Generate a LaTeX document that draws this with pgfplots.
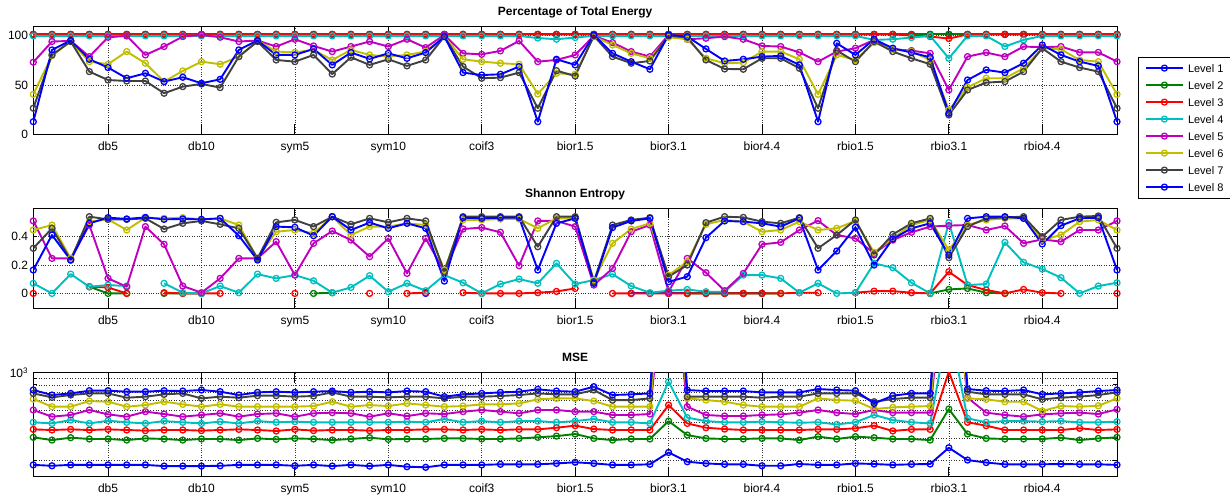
\documentclass[border=0pt]{standalone}
\usepackage{fontspec}
\setmainfont{Liberation Sans}
\usepackage{pgfplots}
\usepackage{pgfplotstable}
\pgfplotsset{compat=1.18}

\definecolor{c1}{rgb}{0,0,1}
\definecolor{c2}{rgb}{0,0.5,0}
\definecolor{c3}{rgb}{1,0,0}
\definecolor{c4}{rgb}{0,0.75,0.75}
\definecolor{c5}{rgb}{0.75,0,0.75}
\definecolor{c6}{rgb}{0.75,0.75,0}
\definecolor{c7}{rgb}{0.25,0.25,0.25}
\definecolor{c8}{rgb}{0,0,1}

% percentage of total energy per decomposition level
\pgfplotstableread{
i  L1    L2    L3    L4    L5    L6    L7    L8
1  101.2 101.2 101.2 99.7  73.0  40.5  26.4  12.8
2  101.2 101.2 101.2 99.7  94.0  79.7  80.4  85.5
3  101.2 101.2 101.2 99.7  94.6  94.0  94.0  95.0
4  101.2 101.2 101.2 99.7  78.7  73.6  63.5  76.0
5  101.2 101.2 101.2 99.7  98.3  71.0  55.0  67.6
6  101.2 101.2 101.2 99.7  99.7  83.8  54.0  56.8
7  101.2 101.2 101.2 99.7  80.4  72.0  54.0  61.8
8  101.2 101.2 101.2 99.7  88.9  53.4  41.6  53.4
9  101.2 101.2 101.2 99.7  99.0  64.2  48.3  57.8
10 101.2 101.2 101.2 99.7  100.7 73.6  51.0  51.7
11 101.2 101.2 101.2 99.7  98.3  71.0  47.3  55.7
12 101.2 101.2 101.2 99.7  94.0  78.7  78.7  85.5
13 101.2 101.2 101.2 99.7  95.0  95.0  94.0  95.0
14 101.2 101.2 101.2 99.7  88.9  83.8  75.3  80.4
15 101.2 101.2 101.2 99.7  96.3  83.0  73.6  80.4
16 101.2 101.2 101.2 99.7  89.5  85.5  80.4  86.5
17 101.2 101.2 101.2 99.7  83.8  75.3  61.0  70.3
18 101.2 101.2 101.2 99.7  88.9  85.5  78.0  82.8
19 101.2 101.2 101.2 99.7  94.0  80.4  70.3  76.4
20 101.2 101.2 101.2 99.7  88.9  78.7  76.0  82.0
21 101.2 101.2 101.2 99.7  96.3  80.4  69.3  77.0
22 101.2 101.2 101.2 99.7  87.8  83.8  75.3  82.8
23 101.2 101.2 101.2 99.7  100.7 99.0  99.0  99.0
24 101.2 101.2 101.2 99.7  82.0  76.0  68.6  62.5
25 101.2 101.2 101.2 99.7  81.0  73.6  56.8  60.0
26 101.2 101.2 101.2 99.7  84.5  72.0  57.4  60.8
27 101.2 101.2 101.2 99.7  94.6  71.0  62.5  68.6
28 101.2 101.2 101.2 97.5  73.6  40.9  26.4  12.8
29 101.2 101.2 101.2 96.3  75.3  61.8  64.5  76.0
30 101.2 101.2 101.2 98.0  80.4  60.8  59.0  70.3
31 101.2 101.2 101.2 99.7  99.7  99.0  99.7  100.7
32 101.2 101.2 101.2 99.7  92.9  90.5  78.7  82.0
33 101.2 101.2 101.2 99.7  83.8  82.0  72.0  73.6
34 101.2 101.2 101.2 99.7  78.7  77.0  74.3  65.9
35 101.2 101.2 101.2 99.7  100.7 98.3  99.7  100.7
36 101.2 101.2 101.2 99.7  96.3  96.3  98.3  99.0
37 101.2 101.2 101.2 99.7  97.3  77.0  75.3  86.5
38 101.2 101.2 101.2 99.7  99.0  72.0  66.2  74.3
39 101.2 101.2 101.2 99.7  96.3  72.6  65.9  76.0
40 101.2 101.2 101.2 99.7  89.5  83.8  77.0  78.7
41 101.2 101.2 101.2 99.7  88.9  83.8  77.0  79.4
42 101.2 101.2 101.2 99.7  83.0  76.0  66.9  70.3
43 101.2 101.2 101.2 99.7  73.6  40.5  26.4  12.8
44 101.2 101.2 101.2 99.7  83.8  80.4  84.8  92.2
45 101.2 101.2 101.2 99.7  87.2  75.3  73.6  80.4
46 101.2 101.2 101.2 95.6  95.6  92.9  94.0  96.3
47 101.2 101.2 101.2 96.3  86.1  86.1  83.8  87.2
48 101.2 101.2 100.0 98.0  84.8  83.8  77.0  82.8
49 101.2 101.2 99.0  99.7  82.0  75.3  71.0  78.0
50 101.2 101.2 97.0  77.0  44.9  24.7  19.6  21.3
51 101.2 101.2 101.2 99.7  78.7  47.6  44.9  55.0
52 101.2 101.2 101.2 99.7  82.8  56.8  52.4  65.2
53 101.2 101.2 101.2 89.0  78.7  56.8  53.4  62.5
54 101.2 101.2 101.2 95.6  88.9  66.9  63.5  72.0
55 101.2 101.2 101.2 99.7  88.2  87.2  87.2  90.5
56 101.2 101.2 101.2 99.7  88.9  86.1  73.6  80.4
57 101.2 101.2 101.2 99.7  83.0  75.3  67.6  73.6
58 101.2 101.2 101.2 99.7  83.0  73.6  63.5  69.3
59 101.2 101.2 101.2 99.7  73.6  40.5  26.4  12.8
}\energy

% Shannon entropy per decomposition level (nan = undefined)
\pgfplotstableread{
i  L1  L2    L3    L4    L5    L6    L7    L8
1  nan nan   0     0.071 0.511 0.447 0.318 0.165
2  nan nan   nan   0.000 0.247 0.482 0.459 0.412
3  nan nan   nan   0.136 0.247 0.247 0.235 0.235
4  nan 0.047 0.047 0.047 0.482 0.506 0.541 0.494
5  nan 0     0.042 0.059 0.106 0.522 0.522 0.534
6  nan 0     0     0.052 0.047 0.447 0.522 0.525
7  nan nan   nan   nan   0.471 0.534 0.529 0.536
8  nan 0     0.005 0.071 0.346 0.529 0.454 0.522
9  nan 0     0     0.005 0.052 0.534 0.494 0.525
10 nan 0     0     0     0.005 0.522 0.511 0.522
11 nan nan   0     0.052 0.106 0.529 0.487 0.529
12 nan nan   nan   0.005 0.247 0.482 0.459 0.407
13 nan nan   nan   0.136 0.247 0.247 0.247 0.235
14 nan nan   nan   0.106 0.365 0.435 0.501 0.471
15 nan nan   0     0.129 0.129 0.447 0.518 0.466
16 nan 0     nan   0.089 0.353 0.424 0.471 0.407
17 nan 0.005 nan   0.005 0.440 0.541 0.541 0.541
18 nan nan   nan   0.042 0.376 0.412 0.487 0.447
19 nan nan   0     0.125 0.259 0.471 0.529 0.499
20 nan nan   nan   0.012 0.388 0.471 0.501 0.459
21 nan nan   0     0.071 0.141 0.494 0.529 0.494
22 0   nan   0.005 0.019 0.388 0.482 0.511 0.459
23 nan nan   nan   0.129 0.153 0.165 0.153 0.087
24 nan nan   0.005 0.075 0.454 0.518 0.541 0.534
25 nan nan   0     0     0.464 0.518 0.541 0.529
26 nan nan   0     0.066 0.431 0.525 0.541 0.534
27 nan nan   0     0.101 0.195 0.525 0.541 0.534
28 nan nan   0.005 0.071 0.511 0.459 0.329 0.165
29 nan nan   0.014 0.212 0.511 0.529 0.541 0.494
30 nan nan   0.035 0.066 0.471 0.529 0.541 0.529
31 nan nan   nan   0.094 0.059 0.094 0.082 0.071
32 nan nan   0     0.136 0.176 0.353 0.482 0.464
33 0   nan   0     0.052 0.435 0.454 0.518 0.511
34 0   nan   0     0.005 0.482 0.494 0.534 0.529
35 0   nan   0     0.019 0.012 0.129 0.118 0.082
36 0   0     0     0.028 0.247 0.224 0.200 0.118
37 0   0     0     0.012 0.146 0.487 0.499 0.393
38 0   0     0     0.012 0.019 0.518 0.541 0.511
39 0   0     0     0.129 0.141 0.506 0.536 0.506
40 0   0     0     0.129 0.346 0.435 0.506 0.494
41 nan 0     0     0.106 0.360 0.447 0.494 0.471
42 nan nan   0.005 0.005 0.447 0.506 0.534 0.529
43 nan nan   0.005 0.071 0.513 0.447 0.318 0.165
44 nan nan   nan   0     0.412 0.459 0.412 0.299
45 nan nan   0.005 0.005 0.388 0.511 0.518 0.466
46 nan nan   0.016 0.212 0.282 0.289 0.271 0.200
47 nan nan   0.016 0.181 0.376 0.388 0.416 0.384
48 nan nan   0.005 0.075 0.431 0.482 0.494 0.459
49 nan 0     0     0     0.471 0.518 0.529 0.494
50 nan 0.028 0.153 0.499 0.478 0.306 0.252 0.271
51 nan 0.035 0.059 0.059 0.482 0.482 0.471 0.529
52 nan 0.005 0.024 0.066 0.447 0.518 0.529 0.541
53 nan 0     0     0.360 0.475 0.529 0.536 0.541
54 nan nan   0.028 0.219 0.353 0.529 0.541 0.529
55 nan nan   0.005 0.172 0.381 0.376 0.400 0.348
56 nan nan   0     0.111 0.365 0.412 0.518 0.478
57 nan nan   nan   0     0.447 0.506 0.541 0.529
58 nan nan   nan   0.052 0.447 0.518 0.546 0.534
59 nan nan   0     0.075 0.511 0.447 0.318 0.165
}\entropy

% mean squared error per decomposition level
\pgfplotstableread{
i  L1  L2  L3   L4   L5    L6    L7    L8
1  183 304 352  401  503   616   683   727
2  180 289 348  393  445   535   635   663
3  183 302 352  418  459   535   663   683
4  183 295 348  393  503   593   683   718
5  183 295 352  413  464   586   683   718
6  183 289 348  401  445   535   631   705
7  183 298 344  393  488   551   643   705
8  179 295 348  410  467   586   671   718
9  179 289 348  401  445   558   683   713
10 179 295 344  393  459   535   623   727
11 180 295 348  406  473   558   643   705
12 183 289 352  393  445   535   631   663
13 183 298 348  410  467   535   655   696
14 183 293 342  401  473   535   655   705
15 180 298 352  406  445   535   643   696
16 183 295 344  401  473   541   651   705
17 179 289 348  401  479   586   696   713
18 183 295 348  401  473   535   643   696
19 179 302 344  401  445   551   643   705
20 183 293 348  401  473   541   635   696
21 177 295 348  406  450   568   643   713
22 175 295 352  401  473   551   643   705
23 183 298 352  426  467   535   623   643
24 183 298 348  401  488   541   643   671
25 183 295 352  410  503   558   643   683
26 185 295 348  401  488   558   651   696
27 185 298 352  410  473   568   663   705
28 185 304 352  410  503   612   683   736
29 188 311 363  401  503   623   671   713
30 192 323 377  410  488   623   671   705
31 188 298 354  426  488   593   727   773
32 183 289 348  401  459   535   604   663
33 183 295 348  401  459   535   604   671
34 185 295 348  393  467   535   623   683
35 230 410 551  847  15000 20000 50000 100000
36 194 317 393  437  535   623   643   727
37 188 298 363  410  459   604   643   713
38 185 295 354  401  450   586   643   713
39 185 295 348  401  450   551   643   713
40 180 298 348  406  459   535   631   696
41 180 298 348  401  464   535   643   696
42 186 289 348  398  479   535   643   696
43 183 308 352  401  503   623   683   740
44 183 295 352  386  479   604   683   727
45 188 308 359  401  467   597   683   718
46 186 302 377  459  503   512   586   568
47 183 295 342  418  479   528   616   655
48 185 295 352  401  479   535   631   683
49 186 289 352  393  479   541   631   683
50 251 512 1020 2500 15000 20000 50000 100000
51 200 323 401  431  631   623   705   740
52 191 298 377  401  479   612   671   718
53 185 295 348  410  459   586   671   713
54 185 295 348  410  445   586   671   727
55 185 295 348  406  464   494   612   671
56 186 302 348  410  473   541   631   683
57 185 289 359  401  479   535   643   696
58 185 298 348  401  467   544   663   713
59 183 304 352  406  509   623   696   727
}\mse

\pgfplotsset{
  panel/.style={
    scale only axis, width=1083.7pt, anchor=north west,
    xmin=1, xmax=59, xtick={5,10,...,55},
    xticklabels={db5,db10,sym5,sym10,coif3,bior1.5,bior3.1,bior4.4,rbio1.5,rbio3.1,rbio4.4},
    tick align=inside, tick pos=both,
    xtick style={/pgfplots/major tick length=10pt, black, line width=0.8pt},
    ytick style={/pgfplots/major tick length=4pt, black, line width=0.8pt},
    minor tick length=4pt,
    xmajorgrids, ymajorgrids,
    grid style={dotted, black!80, line width=0.6pt},
    minor grid style={dotted, black!80, line width=0.6pt},
    axis line style={black, line width=0.8pt},
    tick label style={font=\fontsize{12}{14}\selectfont, inner sep=0pt},
    xticklabel style={anchor=base, yshift=-15.7pt},
    yticklabel style={anchor=east, xshift=-5pt},
    every axis title/.style={at={(0.5,1)}, anchor=base, yshift=11pt, inner sep=0pt,
      font=\bfseries\fontsize{12}{14}\selectfont},
    unbounded coords=jump,
    every axis plot/.append style={line width=1.9pt, line join=round, mark=o,
      mark size=3pt, mark options={solid, line width=1.3pt}},
  },
}

\newcommand{\levels}[1]{%
  \addplot[c1] table[x=i, y=L1] {#1};
  \addplot[c2] table[x=i, y=L2] {#1};
  \addplot[c3] table[x=i, y=L3] {#1};
  \addplot[c4] table[x=i, y=L4] {#1};
  \addplot[c5] table[x=i, y=L5] {#1};
  \addplot[c6] table[x=i, y=L6] {#1};
  \addplot[c7] table[x=i, y=L7] {#1};
  \addplot[c8] table[x=i, y=L8] {#1};
}

\begin{document}
\begin{tikzpicture}
\path[use as bounding box] (0pt,0pt) rectangle (1230pt,-498pt);

\begin{axis}[panel, at={(33.3pt,-26.7pt)}, height=107.6pt,
  ymin=0, ymax=109, ytick={0,50,100}, yticklabels={0,50,100},
  title={Percentage of Total Energy},
  legend cell align=left,
  legend image code/.code={\draw[mark repeat=2, mark phase=2]
    plot coordinates {(0pt,4pt) (18.35pt,4pt) (36.7pt,4pt)};},
  legend style={at={(1.0191,0.7212)}, anchor=north west, draw=black,
    line width=0.8pt, fill=white, font=\fontsize{11}{13}\selectfont,
    inner xsep=7pt, inner ysep=7pt, row sep=9pt, column sep=4.3pt,
    nodes={inner sep=0pt, text height=8pt, text depth=0pt, anchor=base west}},
]
\levels{\energy}
\legend{Level 1,Level 2,Level 3,Level 4,Level 5,Level 6,Level 7,Level 8}
\end{axis}

\begin{axis}[panel, at={(33.3pt,-208.3pt)}, height=100pt,
  ymin=-0.105, ymax=0.6, ytick={0,0.2,0.4}, yticklabels={0,0.2,0.4},
  title={Shannon Entropy},
]
\levels{\entropy}
\end{axis}

\begin{axis}[panel, at={(33.3pt,-372.7pt)}, height=104pt,
  ymode=log, ymin=147.2, ymax=1000,
  ytick={1000}, yticklabels={10\textsuperscript{3}},
  minor ytick={200,300,400,500,600,700,800,900}, yminorgrids,
  title={MSE},
]
\levels{\mse}
\end{axis}
\end{tikzpicture}
\end{document}
